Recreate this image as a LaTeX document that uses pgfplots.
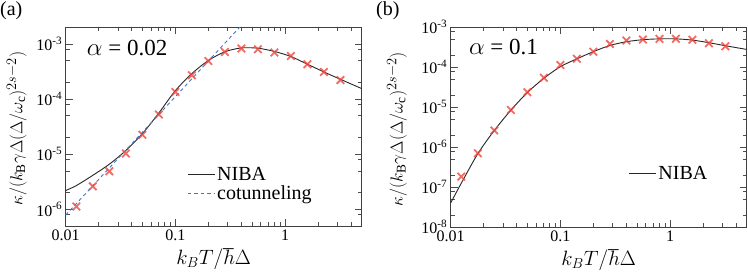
\documentclass[border=0pt]{standalone}
\usepackage{pgfplots}
\pgfplotsset{compat=1.18}
\usepackage{fontspec}
\setmainfont{Liberation Serif}
\definecolor{mkred}{RGB}{240,70,60}
\definecolor{cotblue}{RGB}{70,115,200}
\pgfplotsset{
  mk/.style={only marks, mark=x, mark size=5.3pt, color=mkred, mark options={line width=1.8pt, opacity=0.8}},
  niba/.style={smooth, color=black!85, line width=0.9pt, mark=none},
}
\begin{document}
\begin{tikzpicture}
\useasboundingbox (0pt,0pt) rectangle (748pt,273pt);
% Panel (a)
\begin{axis}[scale only axis, width=296pt, height=198.7pt,
    at={(65.7pt,47pt)}, anchor=south west,
    xmode=log, ymode=log, xmin=0.01, xmax=5,
    xtick={0.01,0.1,1}, xticklabels={0.01,0.1,1},
    minor xtick={0.02,0.03,0.04,0.05,0.06,0.07,0.08,0.09,0.2,0.3,0.4,0.5,0.6,0.7,0.8,0.9,2,3,4},
    tick align=inside, xtick pos=both, ytick pos=both,
    major tick length=7pt, minor tick length=4pt,
    every tick/.style={black!70, line width=0.6pt},
    axis line style={black!75, line width=0.8pt},
    tick label style={font=\fontsize{16}{18}\selectfont},
    xlabel={$k_BT/\hbar\Delta$},
    ylabel={$\kappa/(k_{\mathrm B}\gamma\Delta(\Delta/\omega_{\mathrm c})^{2s-2})$},
    xlabel style={font=\fontsize{21}{23}\selectfont, at={(axis description cs:0.5,-0.165)}, anchor=center},
    ylabel style={font=\fontsize{19}{21}\selectfont, at={(axis description cs:-0.165,0.49)}, anchor=center},
    legend style={draw=none, fill=none, font=\fontsize{20}{24}\selectfont, at={(axis description cs:0.40,0.21)}, anchor=west},
    legend cell align=left,
    legend image code/.code={\draw[#1] (0pt,0pt) -- (27pt,0pt);},
  ymin=5e-7, ymax=2e-3,
  ytick={1e-6,1e-5,1e-4,1e-3},
  yticklabels={10\textsuperscript{-6},10\textsuperscript{-5},10\textsuperscript{-4},10\textsuperscript{-3}},
  minor ytick={8e-7,2e-6,5e-6,8e-6,2e-5,5e-5,8e-5,2e-4,5e-4,8e-4}]
\addplot[niba] coordinates {(0.01,2.2e-6)(0.0125,2.7e-6)(0.01768,4.15e-6)(0.025,6.6e-6)(0.03536,1.17e-5)(0.05,2.35e-5)(0.07071,5.6e-5)(0.1,1.42e-4)(0.1414,2.9e-4)(0.2,5.0e-4)(0.2828,7.2e-4)(0.4,8.45e-4)(0.5657,8.35e-4)(0.8,7.3e-4)(1.131,5.9e-4)(1.6,4.28e-4)(2.263,3.1e-4)(3.2,2.28e-4)(5,1.55e-4)};
\addlegendentry{NIBA}
\addplot[color=cotblue, dash pattern=on 3.5pt off 3pt, line width=0.9pt] coordinates {(0.01,7.9e-7)(0.4,2.17e-3)};
\addlegendentry{cotunneling}
\addplot[mk, forget plot] coordinates {(0.0125,1.13e-6)(0.01768,2.62e-6)(0.025,4.9e-6)(0.03536,1.03e-5)(0.05,2.25e-5)(0.07071,5.27e-5)(0.1,1.34e-4)(0.1414,2.7e-4)(0.2,4.9e-4)(0.2828,7.16e-4)(0.4,8.24e-4)(0.5657,8.0e-4)(0.8,6.98e-4)(1.131,6.05e-4)(1.6,4.28e-4)(2.263,3.1e-4)(3.2,2.21e-4)};
\node[anchor=west, font=\fontsize{23}{26}\selectfont] at (rel axis cs:0.06,0.895) {$\alpha$ = 0.02};
\end{axis}
% Panel (b)
\begin{axis}[scale only axis, width=296pt, height=200pt,
    at={(450.7pt,46pt)}, anchor=south west,
    xmode=log, ymode=log, xmin=0.01, xmax=5,
    xtick={0.01,0.1,1}, xticklabels={0.01,0.1,1},
    minor xtick={0.02,0.03,0.04,0.05,0.06,0.07,0.08,0.09,0.2,0.3,0.4,0.5,0.6,0.7,0.8,0.9,2,3,4},
    tick align=inside, xtick pos=both, ytick pos=both,
    major tick length=7pt, minor tick length=4pt,
    every tick/.style={black!70, line width=0.6pt},
    axis line style={black!75, line width=0.8pt},
    tick label style={font=\fontsize{16}{18}\selectfont},
    xlabel={$k_BT/\hbar\Delta$},
    ylabel={$\kappa/(k_{\mathrm B}\gamma\Delta(\Delta/\omega_{\mathrm c})^{2s-2})$},
    xlabel style={font=\fontsize{21}{23}\selectfont, at={(axis description cs:0.5,-0.165)}, anchor=center},
    ylabel style={font=\fontsize{19}{21}\selectfont, at={(axis description cs:-0.181,0.49)}, anchor=center},
    legend style={draw=none, fill=none, font=\fontsize{20}{24}\selectfont, at={(axis description cs:0.59,0.266)}, anchor=west},
    legend cell align=left,
    legend image code/.code={\draw[#1] (0pt,0pt) -- (27pt,0pt);},
  ymin=1e-8, ymax=1e-3,
  ytick={1e-8,1e-7,1e-6,1e-5,1e-4,1e-3},
  yticklabels={10\textsuperscript{-8},10\textsuperscript{-7},10\textsuperscript{-6},10\textsuperscript{-5},10\textsuperscript{-4},10\textsuperscript{-3}},
  minor ytick={2e-8,5e-8,8e-8,2e-7,5e-7,8e-7,2e-6,5e-6,8e-6,2e-5,5e-5,8e-5,2e-4,5e-4,8e-4}]
\addplot[niba] coordinates {(0.01,4e-8)(0.0125,1.25e-7)(0.01768,6.8e-7)(0.025,2.6e-6)(0.03536,8.3e-6)(0.05,2.3e-5)(0.07071,5.2e-5)(0.1,1.02e-4)(0.1414,1.6e-4)(0.2,2.42e-4)(0.2828,3.45e-4)(0.4,4.28e-4)(0.5657,4.82e-4)(0.8,5.05e-4)(1.131,5.05e-4)(1.6,4.7e-4)(2.263,4.05e-4)(3.2,3.4e-4)(5,2.75e-4)};
\addlegendentry{NIBA}
\addplot[mk, forget plot] coordinates {(0.0125,1.82e-7)(0.01768,7.0e-7)(0.025,2.6e-6)(0.03536,8.4e-6)(0.05,2.35e-5)(0.07071,5.4e-5)(0.1,1.12e-4)(0.1414,1.6e-4)(0.2,2.4e-4)(0.2828,3.78e-4)(0.4,4.6e-4)(0.5657,4.87e-4)(0.8,5.05e-4)(1.131,5.1e-4)(1.6,4.8e-4)(2.263,3.92e-4)(3.2,3.3e-4)};
\node[anchor=west, font=\fontsize{23}{26}\selectfont] at (rel axis cs:0.05,0.9) {$\alpha$ = 0.1};
\end{axis}
\node[anchor=north west, font=\fontsize{20}{22}\selectfont, inner sep=0pt] at (0pt,272pt) {(a)};
\node[anchor=north west, font=\fontsize{20}{22}\selectfont, inner sep=0pt] at (376pt,272pt) {(b)};
\end{tikzpicture}
\end{document}
